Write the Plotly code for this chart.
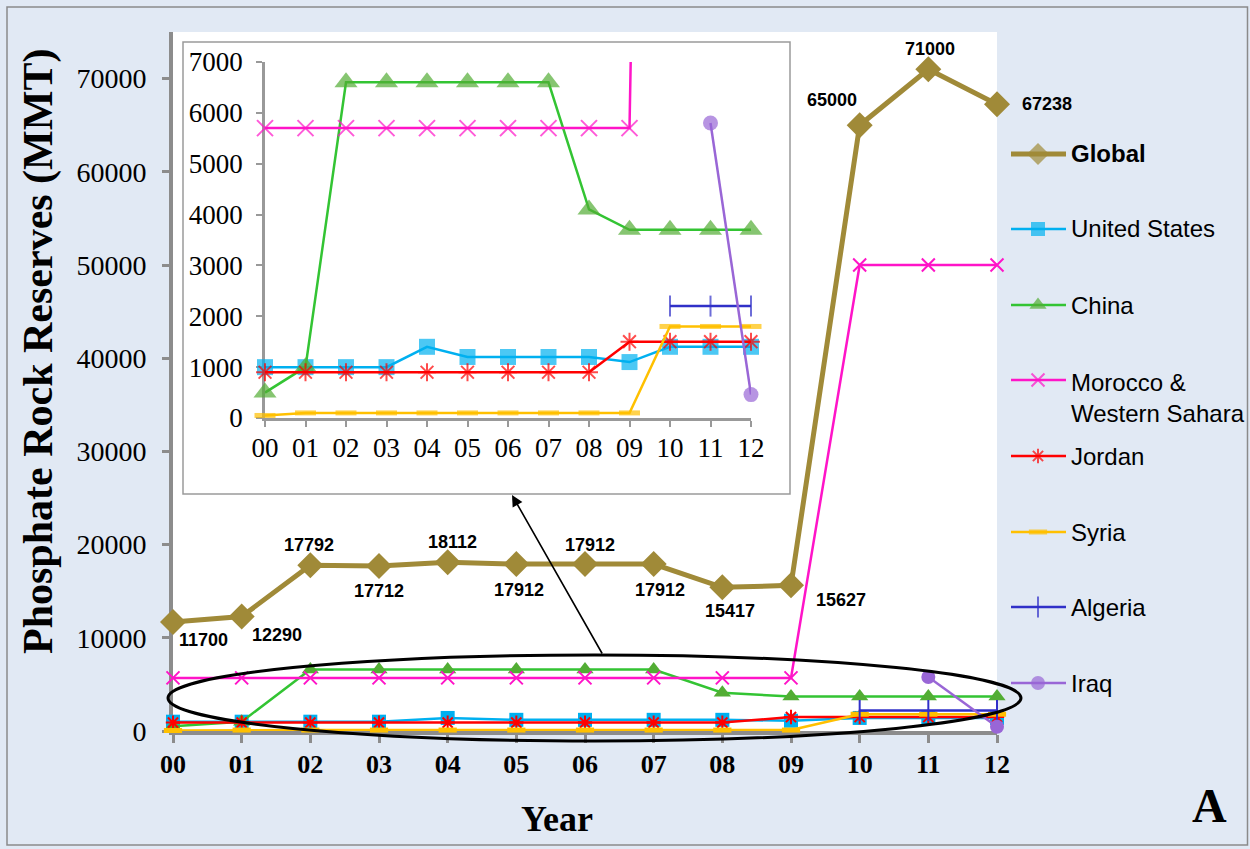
import plotly.graph_objects as go

W, H = 1250, 849

# ---------------- data ----------------
years = ["00", "01", "02", "03", "04", "05", "06", "07", "08", "09", "10", "11", "12"]
global_reserves = [11700, 12290, 17792, 17712, 18112, 17912, 17912, 17912, 15417, 15627, 65000, 71000, 67238]
united_states = [1000, 1000, 1000, 1000, 1400, 1200, 1200, 1200, 1200, 1100, 1400, 1400, 1400]
china = [500, 1000, 6600, 6600, 6600, 6600, 6600, 6600, 4100, 3700, 3700, 3700, 3700]
morocco_ws = [5700, 5700, 5700, 5700, 5700, 5700, 5700, 5700, 5700, 5700, 50000, 50000, 50000]
jordan = [900, 900, 900, 900, 900, 900, 900, 900, 900, 1500, 1500, 1500, 1500]
syria = [50, 100, 100, 100, 100, 100, 100, 100, 100, 100, 1800, 1800, 1800]
algeria = [None, None, None, None, None, None, None, None, None, None, 2200, 2200, 2200]
iraq = [None, None, None, None, None, None, None, None, None, None, None, 5800, 460]

country_names = ["United States", "China", "Morocco &<br>Western Sahara", "Jordan", "Syria", "Algeria", "Iraq"]
country_values = [united_states, china, morocco_ws, jordan, syria, algeria, iraq]

x_idx = list(range(len(years)))

# ---------------- styles ----------------
GOLD = "#a08a38"
# size: main chart marker, isize: inset marker
styles = {
    "United States": dict(line="#00b0f0", symbol="square", color="#00b0f0", size=14, isize=16, lw=0),
    "China": dict(line="#33c433", symbol="triangle-up", color="#52ad34", size=15, isize=20, lw=0),
    "Morocco &<br>Western Sahara": dict(line="#ff14c8", symbol="x-thin", color="#ff14c8", size=13, isize=16, lw=2),
    "Jordan": dict(line="#ff0000", symbol="asterisk", color="#ff0000", size=12, isize=15, lw=2),
    "Syria": dict(line="#ffc000", symbol="line-ew", color="#ffc000", size=13, isize=15, lw=5),
    "Algeria": dict(line="#3030c8", symbol="line-ns", color="#3030c8", size=15, isize=15, lw=2),
    "Iraq": dict(line="#9966d6", symbol="circle", color="#9966d6", size=14, isize=15, lw=0),
}
INSET_MAX = 7000


def px(x):
    return x / W


def py(y):
    return 1 - y / H


def marker_for(st, size):
    m = dict(symbol=st["symbol"], size=size, color=st["color"])
    if st["lw"]:
        m["line"] = dict(color=st["color"], width=st["lw"])
    else:
        m["line"] = dict(width=0)
    return m


fig = go.Figure()

# main chart: global total
fig.add_trace(go.Scatter(
    x=x_idx, y=global_reserves, mode="lines+markers", name="Global",
    line=dict(color=GOLD, width=5),
    marker=dict(symbol="diamond", size=20, color=GOLD),
    cliponaxis=False, xaxis="x", yaxis="y",
))

# main chart: countries
for name, vals in zip(country_names, country_values):
    st = styles[name]
    fig.add_trace(go.Scatter(
        x=x_idx, y=vals, mode="lines+markers", name=name,
        line=dict(color=st["line"], width=2.5),
        marker=marker_for(st, st["size"]),
        cliponaxis=False, xaxis="x", yaxis="y",
    ))

# inset: countries on an expanded scale
for name, vals in zip(country_names, country_values):
    st = styles[name]
    sizes = [st["isize"] if (v is not None and v <= INSET_MAX) else 0 for v in vals]
    m = marker_for(st, sizes)
    fig.add_trace(go.Scatter(
        x=x_idx, y=vals, mode="lines", line=dict(color=st["line"], width=2.5),
        xaxis="x2", yaxis="y2", showlegend=False,
    ))
    fig.add_trace(go.Scatter(
        x=x_idx, y=vals, mode="markers", marker=m,
        cliponaxis=False, xaxis="x2", yaxis="y2", showlegend=False,
    ))

# ---------------- legend (drawn on a pixel-space overlay axis) ----------------
legend_names = ["Global"] + country_names
legend_y = [154, 229, 305, 380, 456, 532, 607, 683]
LX0, LX1, LXM = 1011, 1066, 1038
for name, yy in zip(legend_names, legend_y):
    if name == "Global":
        line = dict(color=GOLD, width=5)
        m = dict(symbol="diamond", size=[0, 17, 0], color=GOLD, line=dict(width=0))
    else:
        st = styles[name]
        line = dict(color=st["line"], width=2.5)
        m = marker_for(st, [0, st["size"], 0])
    fig.add_trace(go.Scatter(
        x=[LX0, LXM, LX1], y=[yy, yy, yy], mode="lines+markers",
        line=line, marker=m, xaxis="x3", yaxis="y3", showlegend=False,
        cliponaxis=False,
    ))

annotations = []
for name, yy in zip(legend_names, legend_y):
    lines = name.count("<br>") + 1
    yc = yy + (lines - 1) * 17.5
    annotations.append(dict(
        xref="paper", yref="paper", x=px(1069), y=py(yc), xanchor="left", yanchor="middle",
        text=f"<b>{name}</b>" if name == "Global" else name, showarrow=False, align="left",
        font=dict(family="Liberation Sans", size=24, color="black"),
    ))

# value labels on the global series
label_offsets = [(30, -18), (35, -19), (-1, 20), (0, -25), (5, 20), (3, -26), (5, 19),
                 (6, -26), (8, -24), (50, -15), (-28, 25), (2, 20), (50, 0)]
for i, (v, (dx, dy)) in enumerate(zip(global_reserves, label_offsets)):
    annotations.append(dict(
        xref="x", yref="y", x=i, y=v, text=f"<b>{v}</b>", showarrow=False,
        xshift=dx, yshift=dy, xanchor="center", yanchor="middle",
        font=dict(family="Liberation Sans", size=18, color="black"),
    ))

# titles
annotations += [
    dict(xref="paper", yref="paper", x=px(38), y=py(352), text="<b>Phosphate Rock Reserves (MMT)</b>",
         textangle=-90, showarrow=False, xanchor="center", yanchor="middle",
         font=dict(family="Liberation Serif", size=42, color="black")),
    dict(xref="paper", yref="paper", x=px(557), y=py(819), text="<b>Year</b>", showarrow=False,
         xanchor="center", yanchor="middle", font=dict(family="Liberation Serif", size=36, color="black")),
    dict(xref="paper", yref="paper", x=px(1209), y=py(805), text="<b>A</b>", showarrow=False,
         xanchor="center", yanchor="middle", font=dict(family="Liberation Serif", size=48, color="black")),
    # arrow from the highlighted region up to the inset
    dict(xref="x3", yref="y3", x=512, y=495, axref="x3", ayref="y3", ax=603, ay=655,
         text="", showarrow=True, arrowhead=2, arrowsize=1.4, arrowwidth=1.6, arrowcolor="black"),
]

shapes = [
    # outer frame
    dict(type="rect", xref="paper", yref="paper", x0=px(7), x1=px(1247.5), y0=py(845), y1=py(7),
         line=dict(color="#8a8a8a", width=1.5), fillcolor="rgba(0,0,0,0)", layer="below"),
    # main plot area
    dict(type="rect", xref="paper", yref="paper", x0=px(173), x1=px(997), y0=py(731), y1=py(32),
         line=dict(width=0), fillcolor="white", layer="below"),
    # inset frame
    dict(type="rect", xref="paper", yref="paper", x0=px(183), x1=px(790), y0=py(494), y1=py(42),
         line=dict(color="#9a9a9a", width=1.5), fillcolor="white", layer="below"),
    # highlight ellipse
    dict(type="circle", xref="paper", yref="paper", x0=px(168), x1=px(1021), y0=py(741), y1=py(655),
         line=dict(color="black", width=3), fillcolor="rgba(0,0,0,0)", layer="above"),
]

AXIS_GRAY = "#8c8c8c"
fig.update_layout(
    template="none",
    width=W, height=H, autosize=False,
    margin=dict(l=0, r=0, t=0, b=0, pad=0, autoexpand=False),
    paper_bgcolor="#e1e9f4", plot_bgcolor="rgba(0,0,0,0)",
    showlegend=False,
    xaxis=dict(domain=[px(173), px(997)], range=[0, 12], anchor="y", automargin=False,
               tickmode="array", tickvals=x_idx, ticktext=years,
               tickfont=dict(family="Liberation Serif", size=26, color="black", weight="bold"),
               ticks="outside", ticklen=8, tickwidth=3, tickcolor=AXIS_GRAY, ticklabelstandoff=-1,
               showline=True, linecolor=AXIS_GRAY, linewidth=4, showgrid=False, zeroline=False,
               layer="below traces"),
    yaxis=dict(domain=[py(731), py(32)], range=[0, 75000], anchor="x", automargin=False,
               tickmode="linear", tick0=0, dtick=10000, tickformat="d",
               tickfont=dict(family="Liberation Serif", size=28, color="black"),
               ticks="outside", ticklen=7, tickwidth=3, tickcolor=AXIS_GRAY, ticklabelstandoff=10,
               showline=True, linecolor=AXIS_GRAY, linewidth=4, showgrid=False, zeroline=False,
               layer="below traces"),
    xaxis2=dict(domain=[px(265), px(751)], range=[0, 12], anchor="y2", automargin=False,
                tickmode="array", tickvals=x_idx, ticktext=years,
                tickfont=dict(family="Liberation Serif", size=27, color="black"),
                ticks="outside", ticklen=6, tickwidth=2, tickcolor="#999999", ticklabelstandoff=-2,
                showline=True, linecolor="#999999", linewidth=2.5, showgrid=False, zeroline=False,
                layer="below traces"),
    yaxis2=dict(domain=[py(418), py(62)], range=[0, INSET_MAX], anchor="x2", automargin=False,
                tickmode="linear", tick0=0, dtick=1000, tickformat="d",
                tickfont=dict(family="Liberation Serif", size=27, color="black"),
                ticks="outside", ticklen=6, tickwidth=2, tickcolor="#999999", ticklabelstandoff=8,
                showline=True, linecolor="#999999", linewidth=2.5, showgrid=False, zeroline=False,
                layer="below traces"),
    xaxis3=dict(domain=[0, 1], range=[0, W], anchor="y3", visible=False, fixedrange=True, automargin=False),
    yaxis3=dict(domain=[0, 1], range=[H, 0], anchor="x3", visible=False, fixedrange=True, automargin=False),
    annotations=annotations,
    shapes=shapes,
)

fig.write_html("out.html")
